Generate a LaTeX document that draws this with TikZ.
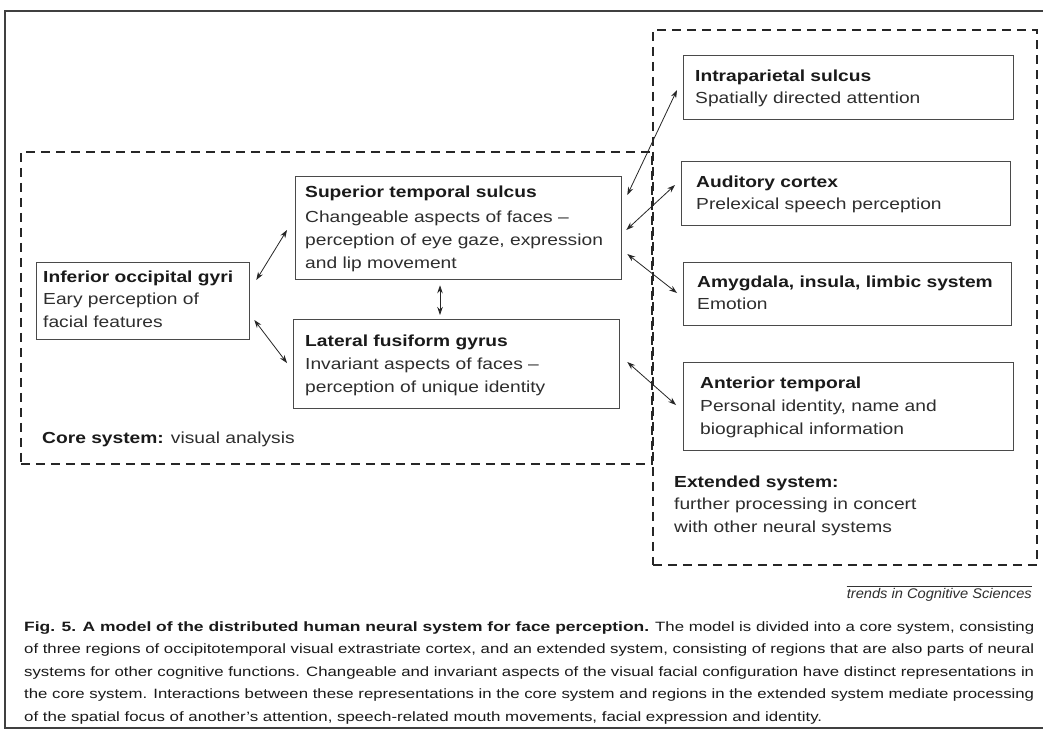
\documentclass[tikz,border=0pt]{standalone}
\usepackage{fontspec}
\usepackage{graphicx}
\setmainfont{Liberation Sans}
\newfontfamily\bodyfont[FakeStretch=1.2]{Liberation Sans}
\usetikzlibrary{arrows.meta,calc}
\definecolor{ink}{HTML}{1A1A1A}
\definecolor{txt}{HTML}{2E2E2E}
\definecolor{boxline}{HTML}{4A4A4A}
\newcommand{\ttl}[1]{\textcolor{ink}{\bfseries #1}}
\newcommand{\txtlines}[1]{{\renewcommand{\arraystretch}{1}\begin{tabular}[t]{@{}l@{}}#1\end{tabular}}}
\newcommand{\capfit}[2]{\resizebox{#1}{\height}{#2}}
\begin{document}
\begin{tikzpicture}[x=1pt,y=-1pt,
  regbox/.style={draw=boxline, line width=1.3pt, rectangle, anchor=north west, inner sep=0pt},
  sysbox/.style={draw=black!85, line width=1.6pt, dash pattern=on 9pt off 6pt, rectangle, anchor=north west, inner sep=0pt},
  lbl/.style={anchor=base west, inner sep=0pt, text=txt, font=\bodyfont\fontsize{16}{22.7}\selectfont},
  link/.style={{Stealth[length=8pt,width=5.5pt]}-{Stealth[length=8pt,width=5.5pt]}, line width=0.8pt, draw=black!85},
]
\useasboundingbox (0,0) rectangle (1043,731);
\fill[white] (0,0) rectangle (1043,731);
% outer frame
\draw[line width=1.5pt, black!75] (1043,11) -- (5,11) -- (5,728) -- (1043,728);

% system boxes
\node[sysbox, minimum width=631pt, minimum height=312pt] (core) at (20,151) {};
\node[sysbox, minimum width=384pt, minimum height=535pt] (ext) at (652,29) {};

% region boxes
\node[regbox, minimum width=213pt, minimum height=77pt] (iog) at (36,262) {};
\node[regbox, minimum width=326pt, minimum height=103pt] (sts) at (295,176) {};
\node[regbox, minimum width=326pt, minimum height=89pt] (lfg) at (293,319) {};
\node[regbox, minimum width=330pt, minimum height=64pt] (ips) at (683,55) {};
\node[regbox, minimum width=329pt, minimum height=64pt] (ac) at (681,161) {};
\node[regbox, minimum width=328pt, minimum height=63pt] (amy) at (683,262) {};
\node[regbox, minimum width=330pt, minimum height=88pt] (at) at (683,362) {};

% texts
\node[lbl] (iogT) at (43,282) {\txtlines{\ttl{Inferior occipital gyri}\\Eary perception of\\facial features}};
\node[lbl] (stsT) at (305,197) {\txtlines{\ttl{Superior temporal sulcus}\\[3pt]Changeable aspects of faces –\\perception of eye gaze, expression\\and lip movement}};
\node[lbl] (lfgT) at (305,346) {\txtlines{\ttl{Lateral fusiform gyrus}\\[1pt]Invariant aspects of faces –\\perception of unique identity}};
\node[lbl] (ipsT) at (695,81) {\txtlines{\ttl{Intraparietal sulcus}\\Spatially directed attention}};
\node[lbl] (acT) at (696,187) {\txtlines{\ttl{Auditory cortex}\\Prelexical speech perception}};
\node[lbl] (amyT) at (697,287) {\txtlines{\ttl{Amygdala, insula, limbic system}\\Emotion}};
\node[lbl] (atT) at (700,388) {\txtlines{\ttl{Anterior temporal}\\[1pt]Personal identity, name and\\biographical information}};
\node[lbl] (coreT) at (42,443) {\ttl{Core system:} visual analysis};
\node[lbl] (extT) at (674,487) {\txtlines{\ttl{Extended system:}\\further processing in concert\\with other neural systems}};

% connectors
\draw[link] ([shift={(6,18)}]iog.north east) -- ([shift={(-8,54)}]sts.north west);
\draw[link] ([shift={(4,58)}]iog.north east) -- ([shift={(-6,44)}]lfg.north west);
\draw[link] ([shift={(145,5)}]sts.south west) -- ([shift={(147,-4)}]lfg.north west);
\draw[link] ([shift={(5,19)}]sts.north east) -- ([shift={(-6,35)}]ips.north west);
\draw[link] ([shift={(4,54)}]sts.north east) -- ([shift={(-6,24)}]ac.north west);
\draw[link] ([shift={(5,78)}]sts.north east) -- ([shift={(-6,31)}]amy.north west);
\draw[link] ([shift={(7,43)}]lfg.north east) -- ([shift={(-7,43)}]at.north west);

% credit
\node[anchor=base east, inner sep=0pt, text=txt, font=\fontsize{14}{16}\selectfont] (cred) at (1032,598) {\capfit{185pt}{\itshape trends in Cognitive Sciences}};
\draw[line width=1.5pt, black!80] ([yshift=1pt]cred.north west) -- ([yshift=1pt]cred.north east);

% caption
\node[anchor=base west, inner sep=0pt, text=ink, font=\fontsize{13.5}{22.6}\selectfont] (cap) at (24,631) {\txtlines{%
\capfit{625pt}{\bfseries Fig. 5. A model of the distributed human neural system for face perception.}\hspace{6pt}\capfit{379pt}{The model is divided into a core system, consisting}\\
\capfit{1010pt}{of three regions of occipitotemporal visual extrastriate cortex, and an extended system, consisting of regions that are also parts of neural}\\
\capfit{1010pt}{systems for other cognitive functions. Changeable and invariant aspects of the visual facial configuration have distinct representations in}\\
\capfit{1010pt}{the core system. Interactions between these representations in the core system and regions in the extended system mediate processing}\\
\capfit{798pt}{of the spatial focus of another's attention, speech-related mouth movements, facial expression and identity.}}};
\end{tikzpicture}
\end{document}
